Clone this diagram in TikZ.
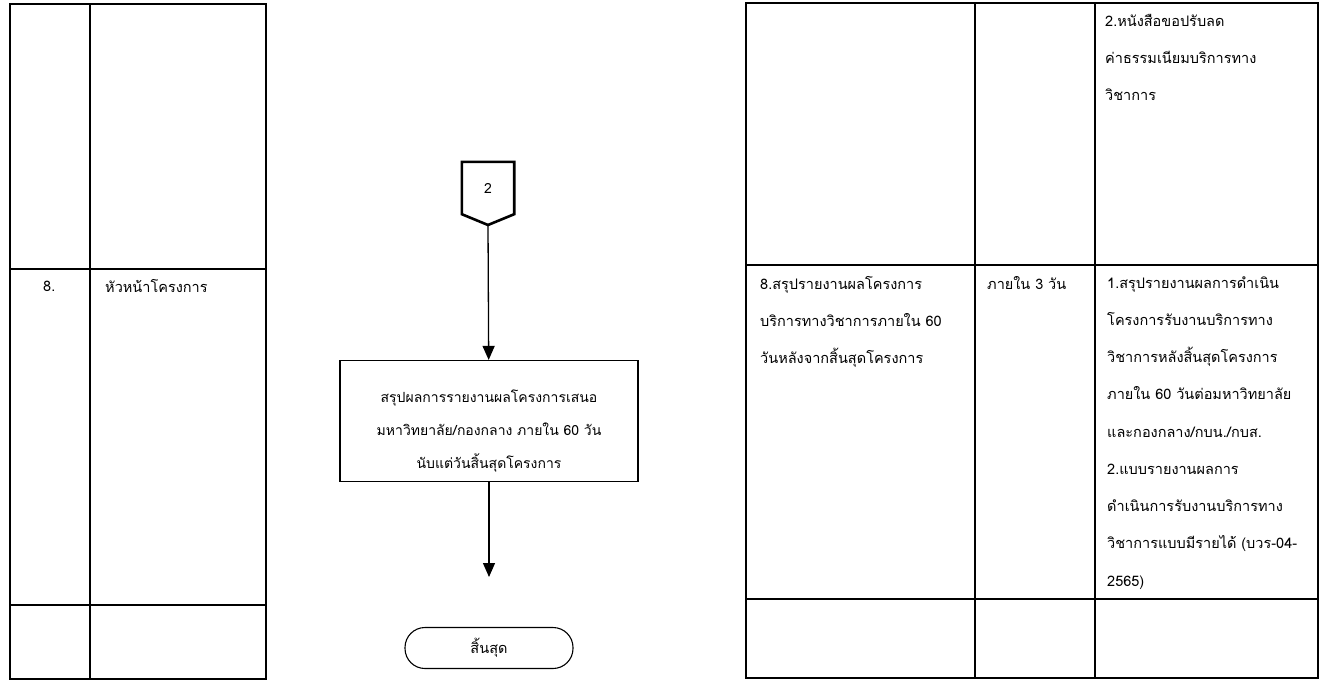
\documentclass[tikz,border=0pt]{standalone}
\usepackage{fontspec}
\newfontfamily\thaifont[Script=Thai]{Loma}
\usetikzlibrary{arrows.meta}
\begin{document}
\begin{tikzpicture}[x=1pt,y=-1pt]
    \tikzstyle{arrow} = [line width=1.3pt,->,>={Triangle[length=14pt,width=12pt]}]
    \tikzstyle{rule} = [line width=1.1pt]
    \tikzstyle{cell} = [anchor=north west, inner sep=0pt, align=left, font=\thaifont\fontsize{14.5}{37.25}\selectfont]
    \useasboundingbox (0,0) rectangle (1324,682);

    % Left table
    \draw [rule] (10,4) rectangle (266,679);
    \draw [rule] (90,4) -- (90,679);
    \draw [rule] (10,269) -- (266,269);
    \draw [rule] (10,605) -- (266,605);
    \node [cell, anchor=west] (StepNo) at (43,286) {8.};
    \node [cell, anchor=west] (Owner) at (105,286) {หัวหน้าโครงการ};

    % Right table
    \draw [rule] (746,3) rectangle (1318,678);
    \draw [rule] (975,3) -- (975,678);
    \draw [rule] (1095,3) -- (1095,678);
    \draw [rule] (746,265) -- (1318,265);
    \draw [rule] (746,599) -- (1318,599);
    \node [cell] (DocTop) at (1105,14) {2.หนังสือขอปรับลด\\ค่าธรรมเนียมบริการทาง\\วิชาการ};
    \node [cell] (Task) at (760,276) {8.สรุปรายงานผลโครงการ\\บริการทางวิชาการภายใน 60\\วันหลังจากสิ้นสุดโครงการ};
    \node [cell] (Time) at (987,276) {ภายใน 3 วัน};
    \node [cell] (Docs) at (1107,276) {1.สรุปรายงานผลการดำเนิน\\โครงการรับงานบริการทาง\\วิชาการหลังสิ้นสุดโครงการ\\ภายใน 60 วันต่อมหาวิทยาลัย\\และกองกลาง/กบน./กบส.\\2.แบบรายงานผลการ\\ดำเนินการรับงานบริการทาง\\วิชาการแบบมีรายได้ (บวร-04-\\2565)};

    % Off-page connector
    \node [inner sep=0pt, minimum width=52pt, minimum height=52pt, font=\thaifont\fontsize{14}{16}\selectfont] (Conn) at (488,188) {2};
    \coordinate (ConnTip) at (488,225);
    \draw [line width=2.6pt, line join=miter] (Conn.south west) -- (Conn.north west) -- (Conn.north east) -- (Conn.south east) -- (ConnTip) -- cycle;

    % Summary box
    \node [draw, line width=1.1pt, minimum width=298pt, minimum height=121pt] (Summary) at (489,421) {};
    \node [align=center, inner sep=0pt, font=\thaifont\fontsize{14}{33}\selectfont] (SummaryText) at (489,431) {สรุปผลการรายงานผลโครงการเสนอ\\มหาวิทยาลัย/กองกลาง ภายใน 60 วัน\\นับแต่วันสิ้นสุดโครงการ};
    \draw [arrow] (ConnTip) -- (Summary);

    % End
    \coordinate (EndTip) at (489,577);
    \draw [arrow] (Summary) -- (EndTip);
    \node [draw, line width=1.1pt, rounded corners=20pt, minimum width=168pt, minimum height=41pt, font=\thaifont\fontsize{14.5}{16}\selectfont] (End) at (489,648) {สิ้นสุด};
\end{tikzpicture}
\end{document}
